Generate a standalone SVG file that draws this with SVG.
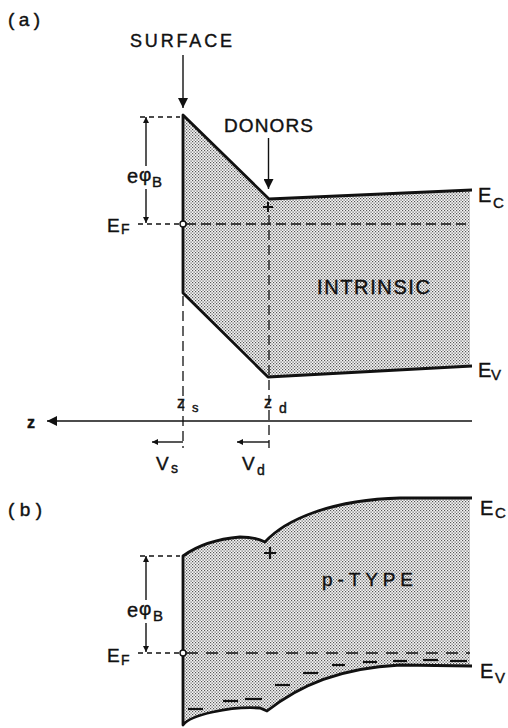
<svg xmlns="http://www.w3.org/2000/svg" width="508" height="728" viewBox="0 0 508 728">
<defs>
<pattern id="dots" width="3" height="3" patternUnits="userSpaceOnUse">
<rect width="3" height="3" fill="#f7f7f7"/>
<rect x="0" y="0" width="1.2" height="1.2" fill="#555"/>
<rect x="1.5" y="1.5" width="1.2" height="1.2" fill="#555"/>
</pattern>
<marker id="big" viewBox="0 0 10 10" refX="10" refY="5" markerWidth="11" markerHeight="10" markerUnits="userSpaceOnUse" orient="auto">
<path d="M0,0 L10,5 L0,10 z" fill="#111"/>
</marker>
<marker id="small" viewBox="0 0 10 10" refX="10" refY="5" markerWidth="9" markerHeight="6" markerUnits="userSpaceOnUse" orient="auto">
<path d="M0,0 L10,5 L0,10 z" fill="#111"/>
</marker>
</defs>
<style>
text{font-family:"Liberation Sans",Arial,sans-serif;fill:#111;stroke:#111;stroke-width:0.4}
.band{fill:url(#dots);stroke:none}
.edge{fill:none;stroke:#111;stroke-width:2.8;stroke-linejoin:round}
.thin{fill:none;stroke:#111;stroke-width:1.4}
.dash{fill:none;stroke:#111;stroke-width:1.3;stroke-dasharray:10 5}
.sdash{fill:none;stroke:#111;stroke-width:1.3;stroke-dasharray:5 4}
.neg{stroke:#111;stroke-width:2.2}
</style>

<g id="panel-a-label"><text x="8" y="26" font-size="19" textLength="32" lengthAdjust="spacing">(a)</text></g>

<g id="band-a">
<polygon class="band" points="183,115 269,199 470,190 470,366 268,377 183,293"/>
<polyline class="edge" points="472,190 269,199 183,115 183,293 268,377 472,366"/>
</g>

<g id="surface"><text x="130" y="47" font-size="18" textLength="102" lengthAdjust="spacing">SURFACE</text></g>
<g id="donors"><text x="224" y="132" font-size="19" textLength="89" lengthAdjust="spacing">DONORS</text>
<path d="M263,207 H273 M268,202 V212" stroke="#111" stroke-width="2"/></g>
<g id="intrinsic"><text x="317" y="294" font-size="20" textLength="113" lengthAdjust="spacing">INTRINSIC</text></g>
<g id="ec-a"><text x="478" y="202" font-size="20">E</text><text x="493" y="208" font-size="15">C</text></g>
<g id="ev-a"><text x="478" y="377" font-size="20">E</text><text x="491" y="380" font-size="15">V</text></g>
<g id="ef-a"><text x="107" y="232" font-size="19">E</text><text x="121" y="234" font-size="14">F</text>
<circle cx="183" cy="224" r="3" fill="#fff" stroke="#111" stroke-width="1.4"/></g>
<g id="ephib-a"><text x="127" y="183" font-size="20">e</text><text x="139" y="181" font-size="19">φ</text><text x="152" y="187" font-size="15">B</text></g>
<g id="axis-labels">
<text x="27" y="428" font-size="16" font-weight="bold">z</text>
<text x="177" y="408" font-size="16">z</text><text x="192" y="412" font-size="13">s</text>
<text x="264" y="408" font-size="16">z</text><text x="279" y="413" font-size="14">d</text>
<text x="156" y="470" font-size="19">V</text><text x="171" y="473" font-size="14">s</text>
<text x="242" y="470" font-size="19">V</text><text x="257" y="475" font-size="14">d</text>
</g>

<g id="panel-b-label"><text x="8" y="516" font-size="19" textLength="34" lengthAdjust="spacing">(b)</text></g>

<g id="band-b">
<path class="band" d="M183,556 Q205,540 240,537 Q256,537 265,542 C285,520 330,500 400,498 L470,498 L470,666 L400,665 C340,668 300,685 267,711 L260,708 C230,706 190,715 183,725 Z"/>
<path class="edge" d="M472,498 L400,498 C330,500 285,520 265,542 Q256,537 240,537 Q205,540 183,556 L183,725 C190,715 230,706 260,708 L267,711 C300,685 340,668 400,665 L472,666"/>
<path d="M264,553 H276 M270,547 V559" stroke="#111" stroke-width="2.2"/>
<g id="acceptors">
<line class="neg" x1="188" y1="709" x2="203" y2="709"/>
<line class="neg" x1="223" y1="701" x2="238" y2="701"/>
<line class="neg" x1="245" y1="699" x2="262" y2="699"/>
<line class="neg" x1="275" y1="685" x2="290" y2="685"/>
<line class="neg" x1="303" y1="673" x2="318" y2="673"/>
<line class="neg" x1="332" y1="665" x2="345" y2="665"/>
<line class="neg" x1="363" y1="662" x2="377" y2="662"/>
<line class="neg" x1="393" y1="661" x2="407" y2="661"/>
<line class="neg" x1="423" y1="660" x2="438" y2="660"/>
<line class="neg" x1="450" y1="661" x2="467" y2="661"/>
</g>
</g>
<g id="ptype"><text x="322" y="586" font-size="19" textLength="91" lengthAdjust="spacing">p-TYPE</text></g>
<g id="ec-b"><text x="480" y="515" font-size="20">E</text><text x="495" y="518" font-size="15">C</text></g>
<g id="ev-b"><text x="480" y="678" font-size="20">E</text><text x="495" y="683" font-size="15">V</text></g>
<g id="ef-b"><text x="107" y="662" font-size="19">E</text><text x="121" y="665" font-size="14">F</text>
<circle cx="183" cy="653" r="3" fill="#fff" stroke="#111" stroke-width="1.4"/></g>
<g id="ephib-b"><text x="127" y="617" font-size="20">e</text><text x="139" y="615" font-size="19">φ</text><text x="153" y="621" font-size="15">B</text></g>

<g id="connectors">
<line class="thin" x1="183" y1="55" x2="183" y2="108" marker-end="url(#big)"/>
<line class="thin" x1="268.5" y1="138" x2="268.5" y2="189" marker-end="url(#big)"/>
<line class="sdash" x1="140" y1="117" x2="180" y2="117"/>
<line class="sdash" x1="138" y1="224" x2="180" y2="224"/>
<line class="dash" x1="186" y1="224" x2="468" y2="224"/>
<line class="thin" x1="146" y1="166" x2="146" y2="117" marker-end="url(#small)"/>
<line class="thin" x1="146" y1="189" x2="146" y2="223" marker-end="url(#small)"/>
<line class="dash" x1="183" y1="296" x2="183" y2="448"/>
<line class="dash" x1="269" y1="215" x2="269" y2="448"/>
<line x1="472" y1="421" x2="47" y2="421" stroke="#111" stroke-width="1.6" marker-end="url(#big)"/>
<line class="thin" x1="183" y1="442" x2="152" y2="442" marker-end="url(#small)"/>
<line class="thin" x1="269" y1="442" x2="237" y2="442" marker-end="url(#small)"/>
<line class="sdash" x1="140" y1="556" x2="180" y2="556"/>
<line class="sdash" x1="138" y1="653" x2="180" y2="653"/>
<line class="dash" x1="186" y1="653" x2="470" y2="653" style="stroke-dasharray:12 8"/>
<line class="thin" x1="146" y1="600" x2="146" y2="556" marker-end="url(#small)"/>
<line class="thin" x1="146" y1="623" x2="146" y2="652" marker-end="url(#small)"/>
</g>
</svg>
